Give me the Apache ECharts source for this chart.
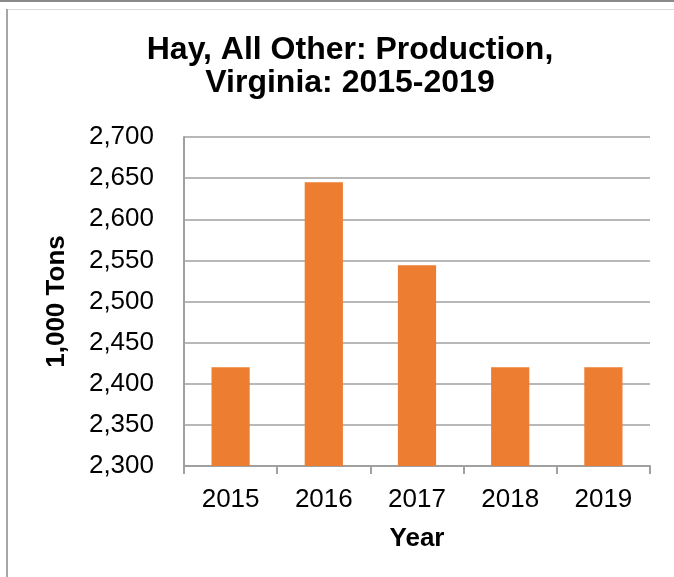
<!DOCTYPE html>
<html>
<head>
<meta charset="utf-8">
<script src="https://cdn.jsdelivr.net/npm/echarts@6/dist/echarts.min.js"></script>
<style>
html,body{margin:0;padding:0;background:#fff;}
#chart{width:674px;height:577px;}
</style>
</head>
<body>
<div id="chart"></div>
<script>
var categories = ['2015', '2016', '2017', '2018', '2019'];
var production = [2420, 2645, 2544, 2420, 2420];
var yTicks = [2300, 2350, 2400, 2450, 2500, 2550, 2600, 2650, 2700];

var FONT = "'Liberation Sans', Arial, sans-serif";
var chart = echarts.init(document.getElementById('chart'), null, {renderer: 'canvas'});
chart.setOption({
  backgroundColor: '#ffffff',
  animation: false,
  title: {
    text: 'Hay, All Other: Production,\nVirginia: 2015-2019',
    left: 345,
    top: 29,
    textAlign: 'center',
    textStyle: {
      fontFamily: FONT,
      fontWeight: 'bold',
      fontSize: 32,
      lineHeight: 33,
      color: '#000'
    }
  },
  graphic: [
    {type: 'rect', shape: {x: 0, y: 0, width: 674, height: 2}, style: {fill: '#8a8a8a'}, silent: true},
    {type: 'rect', shape: {x: 6, y: 9, width: 2, height: 568}, style: {fill: '#a6a6a6'}, silent: true},
    {type: 'rect', shape: {x: 8, y: 9, width: 666, height: 1}, style: {fill: '#d9d9d9'}, silent: true}
  ],
  grid: {
    left: 184,
    right: 24,
    top: 137,
    bottom: 111,
    containLabel: false
  },
  xAxis: {
    type: 'category',
    data: categories,
    name: 'Year',
    nameLocation: 'middle',
    nameGap: 60,
    nameTextStyle: {fontFamily: FONT, fontWeight: 'bold', fontSize: 26, color: '#000'},
    axisLine: {show: true, lineStyle: {color: '#a0a0a0', width: 2}},
    axisTick: {show: true, alignWithLabel: false, length: 8, lineStyle: {color: '#a0a0a0', width: 2}},
    axisLabel: {fontFamily: FONT, fontSize: 26, color: '#000', margin: 21}
  },
  yAxis: {
    type: 'value',
    min: yTicks[0],
    max: yTicks[yTicks.length - 1],
    interval: yTicks[1] - yTicks[0],
    name: '1,000 Tons',
    nameLocation: 'middle',
    nameGap: 114,
    nameRotate: 90,
    nameTextStyle: {fontFamily: FONT, fontWeight: 'bold', fontSize: 26, color: '#000'},
    axisLine: {show: true, lineStyle: {color: '#a0a0a0', width: 2}},
    axisTick: {show: false},
    splitLine: {show: true, lineStyle: {color: '#a0a0a0', width: 1.5}},
    axisLabel: {
      fontFamily: FONT, fontSize: 26, color: '#000', margin: 30,
      formatter: function (v) { return v.toLocaleString('en-US'); }
    }
  },
  series: [{
    type: 'bar',
    data: production,
    barWidth: '41%',
    itemStyle: {color: '#ED7D31'}
  }]
});
</script>
</body>
</html>
